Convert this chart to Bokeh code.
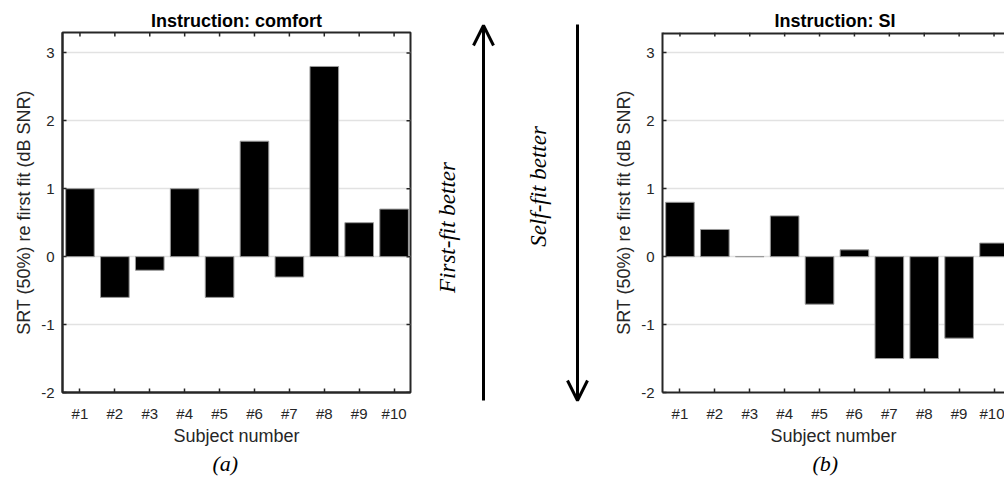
import math
from bokeh.plotting import figure
from bokeh.models import Range1d, FixedTicker, Title, Arrow, OpenHead, ColumnDataSource
from bokeh.layouts import row, column
from bokeh.embed import file_html
from bokeh.resources import INLINE
from bokeh.core.properties import value

# ---- data ----
subject_pos = [1, 2, 3, 4, 5, 6, 7, 8, 9, 10]
subject_labels = ["#1", "#2", "#3", "#4", "#5", "#6", "#7", "#8", "#9", "#10"]
comfort_vals = [1.0, -0.6, -0.2, 1.0, -0.6, 1.7, -0.3, 2.8, 0.5, 0.7]
si_vals = [0.8, 0.4, 0.0, 0.6, -0.7, 0.1, -1.5, -1.5, -1.2, 0.2]
y_ticks = [-2, -1, 0, 1, 2, 3]
y_tick_labels = ["-2", "-1", "0", "1", "2", "3"]
panel_titles = ["Instruction: comfort", "Instruction: SI"]
panel_letters = ["(a)", "(b)"]
y_label = "SRT (50%) re first fit (dB SNR)"
x_label = "Subject number"
arrow_texts = ["First-fit better", "Self-fit better"]

SANS = "Liberation Sans"
SERIF = "Liberation Serif"
AX = "#262626"
H = 484
TOP = 32          # frame top (px)
BOTTOM = 392      # frame bottom (px)
Y_LO, Y_HI = -2, 3.3


def style_axis(ax):
    ax.axis_line_color = AX
    ax.axis_line_width = 2
    ax.major_tick_line_color = AX
    ax.major_tick_line_width = 1.5
    ax.major_tick_in = 4
    ax.major_tick_out = 0
    ax.minor_tick_line_color = None
    ax.major_label_text_color = AX
    ax.major_label_text_font = SANS
    ax.major_label_text_font_size = "15px"
    ax.axis_label_text_font = SANS
    ax.axis_label_text_font_size = "18px"
    ax.axis_label_text_font_style = "normal"
    ax.axis_label_text_color = AX


def make_panel(title, vals, letter, width, x_end, mb_right, boxed, title_align, title_off, letter_off):
    p = figure(width=width, height=H, x_range=Range1d(0.5, x_end), y_range=Range1d(Y_LO, Y_HI),
               toolbar_location=None, output_backend="svg",
               min_border_left=62, min_border_right=mb_right,
               min_border_top=TOP, min_border_bottom=H - BOTTOM)
    p.background_fill_color = "white"
    p.border_fill_color = "white"
    src = ColumnDataSource(dict(x=subject_pos, top=vals))
    p.vbar(x="x", top="top", bottom=0, width=0.82, source=src,
           fill_color="black", line_color="#9a9a9a", line_width=1)
    xt = FixedTicker(ticks=subject_pos)
    yt = FixedTicker(ticks=y_ticks)
    p.xaxis.ticker = xt
    p.xaxis.major_label_overrides = {k: v for k, v in zip(subject_pos, subject_labels)}
    p.yaxis.ticker = yt
    p.yaxis.major_label_overrides = {k: v for k, v in zip(y_ticks, y_tick_labels)}
    for ax in p.xaxis:
        style_axis(ax)
        ax.major_label_standoff = 12
        ax.axis_label_standoff = 1
    for ax in p.yaxis:
        style_axis(ax)
        ax.major_label_standoff = 8
        ax.axis_label_standoff = 4
    p.xaxis.axis_label = x_label
    p.yaxis.axis_label = y_label
    p.xgrid.visible = False
    p.ygrid.ticker = yt
    p.ygrid.grid_line_color = "#e2e2e2"
    p.ygrid.grid_line_width = 1.5

    # inward tick marks on the top edge
    p.ray(x=subject_pos, y=[Y_HI] * len(subject_pos), length=4, length_units="screen",
          angle=-math.pi / 2, line_color=AX, line_width=1.5)
    if boxed:
        p.outline_line_color = AX
        p.outline_line_width = 2
        p.ray(x=[x_end] * len(y_ticks), y=y_ticks, length=4, length_units="screen",
              angle=math.pi, line_color=AX, line_width=1.5)
    else:
        p.outline_line_color = None
        p.hspan(y=[Y_HI], line_color=AX, line_width=4)

    p.title.text = title
    p.title.text_font = SANS
    p.title.text_font_size = "18px"
    p.title.text_font_style = "bold"
    p.title.text_color = "black"
    p.title.align = title_align
    p.title.standoff = 4
    p.title.offset = title_off

    p.add_layout(Title(text=letter, text_font=SERIF, text_font_style="italic",
                       text_font_size="22px", text_color="black", align="left",
                       offset=letter_off, standoff=0), "below")
    return p


left = make_panel(panel_titles[0], comfort_vals, panel_letters[0], 430, 10.47, 20, True,
                  "center", 0, 150)
right = make_panel(panel_titles[1], si_vals, panel_letters[1], 404, 10.3, 0, False,
                   "left", 112, 150)

# middle panel with direction arrows; coordinates are pixels measured up from the page bottom
MID_W = 170
mid = figure(width=MID_W, height=H, x_range=Range1d(0, MID_W), y_range=Range1d(489 - H, 489),
             toolbar_location=None, output_backend="svg", min_border=0,
             x_axis_location=None, y_axis_location=None)
mid.outline_line_color = None
mid.grid.visible = False
arrow_x = [53, 147]
arrow_start = [89, 465]
arrow_end = [464, 89]
for xa, ys, ye in zip(arrow_x, arrow_start, arrow_end):
    mid.add_layout(Arrow(x_start=xa, y_start=ys, x_end=xa, y_end=ye, line_width=3, line_color="black",
                         end=OpenHead(size=20, line_width=3, line_color="black")))
text_x = [17, 108]
text_y = [262, 303]
mid.text(x=text_x, y=text_y, text=arrow_texts, angle=math.pi / 2,
         text_align="center", text_baseline="middle",
         text_font=value(SERIF), text_font_style="italic", text_font_size="23px", text_color="black")

layout = row(left, column(mid), right)
open("out.html", "w").write(file_html(layout, INLINE))
